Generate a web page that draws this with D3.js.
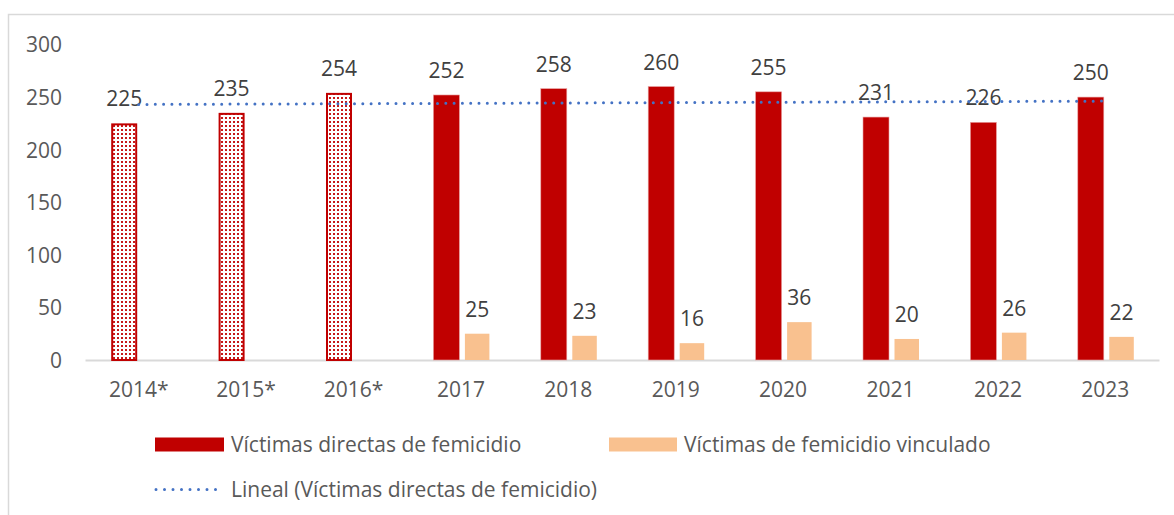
<!DOCTYPE html>
<html>
<head>
<meta charset="utf-8">
<script src="https://cdnjs.cloudflare.com/ajax/libs/d3/7.8.5/d3.min.js"></script>
<style>
  html, body { margin: 0; padding: 0; background: #fff; }
  svg { display: block; font-family: "Open Sans", sans-serif; }
</style>
</head>
<body>
<svg id="chart" width="1174" height="515"></svg>
<script>
const categories = ["2014*", "2015*", "2016*", "2017", "2018", "2019", "2020", "2021", "2022", "2023"];
const directas = [225, 235, 254, 252, 258, 260, 255, 231, 226, 250];
const vinculado = [null, null, null, 25, 23, 16, 36, 20, 26, 22];
const estimated = [true, true, true, false, false, false, false, false, false, false];
const yTicks = [0, 50, 100, 150, 200, 250, 300];
const legendLabels = ["Víctimas directas de femicidio", "Víctimas de femicidio vinculado", "Lineal (Víctimas directas de femicidio)"];

const RED = "#C00000", ORANGE = "#F9C18F", BLUE = "#4472C4";
const FS = "21px";
const svg = d3.select("#chart");

// chart frame
svg.append("path").attr("d", "M8.5,515 V14.5 H1174").attr("fill", "none").attr("stroke", "#d9d9d9").attr("stroke-width", 1.5);

const defs = svg.append("defs");
const pat = defs.append("pattern").attr("id", "dots").attr("patternUnits", "userSpaceOnUse")
  .attr("width", 4).attr("height", 4);
pat.append("rect").attr("width", 4).attr("height", 4).attr("fill", "#fff");
pat.append("rect").attr("x", 1).attr("y", 1).attr("width", 2).attr("height", 2).attr("fill", RED).attr("opacity", 0.9);

const x = d3.scaleBand().domain(categories).range([85, 1159]).paddingInner(0).paddingOuter(0);
const y = d3.scaleLinear().domain([0, 300]).range([360, 44.5]);

// y axis labels
const yAxis = d3.axisLeft(y).tickValues(yTicks).tickSize(0).tickPadding(0);
const gy = svg.append("g").attr("transform", "translate(62,0)").call(yAxis);
gy.select(".domain").remove();
gy.selectAll("text").attr("fill", "#595959").style("font-size", FS).style("font-family", "'Open Sans', sans-serif").attr("dy", "0.35em");

// x axis
const xAxis = d3.axisBottom(x).tickSize(0).tickPadding(0);
const gx = svg.append("g").attr("transform", "translate(0,360)").call(xAxis);
gx.select(".domain").attr("stroke", "#d9d9d9").attr("stroke-width", 2);
gx.selectAll("text").attr("fill", "#595959").style("font-size", FS).style("font-family", "'Open Sans', sans-serif").attr("y", 30).attr("dy", "0.35em");

const cx = c => x(c) + x.bandwidth() / 2;
const redX = c => cx(c) - 27.5, redW = 26;
const orX = c => cx(c) + 4, orW = 24.5;

// red bars
categories.forEach((c, i) => {
  const v = directas[i];
  if (estimated[i]) {
    svg.append("rect").attr("x", redX(c) + 1).attr("y", y(v) + 1).attr("width", redW - 2).attr("height", y(0) - y(v) - 1)
      .attr("fill", "url(#dots)").attr("stroke", RED).attr("stroke-width", 2);
  } else {
    svg.append("rect").attr("x", redX(c)).attr("y", y(v)).attr("width", redW).attr("height", y(0) - y(v))
      .attr("fill", RED).attr("stroke", "#e8a0a0").attr("stroke-width", 0.6);
  }
  svg.append("text").attr("x", redX(c) + redW / 2).attr("y", y(v) - 17).attr("text-anchor", "middle")
    .attr("fill", "#404040").style("font-size", FS).text(v);
});

// orange bars
categories.forEach((c, i) => {
  const v = vinculado[i];
  if (v == null) return;
  svg.append("rect").attr("x", orX(c)).attr("y", y(v)).attr("width", orW).attr("height", y(0) - y(v))
    .attr("fill", ORANGE);
  svg.append("text").attr("x", orX(c) + orW / 2).attr("y", y(v) - 17).attr("text-anchor", "middle")
    .attr("fill", "#404040").style("font-size", FS).text(v);
});

// linear trendline (least squares on directas)
const n = directas.length;
const xs = d3.range(1, n + 1);
const mx = d3.mean(xs), my = d3.mean(directas);
const slope = d3.sum(xs.map((xi, i) => (xi - mx) * (directas[i] - my))) / d3.sum(xs.map(xi => (xi - mx) ** 2));
const icpt = my - slope * mx;
const trend = [[cx(categories[0]), y(icpt + slope * 1)], [cx(categories[n - 1]), y(icpt + slope * n)]];
svg.append("path").attr("d", d3.line()(trend)).attr("fill", "none").attr("stroke", BLUE)
  .attr("stroke-width", 3).attr("stroke-linecap", "round").attr("stroke-dasharray", "0 8.3");

// legend
const lg = svg.append("g");
lg.append("rect").attr("x", 155).attr("y", 437.5).attr("width", 69).attr("height", 14).attr("fill", RED);
lg.append("text").attr("x", 231).attr("y", 444.5).attr("dy", "0.35em").attr("fill", "#595959").style("font-size", FS).text(legendLabels[0]);
lg.append("rect").attr("x", 609).attr("y", 437.5).attr("width", 68).attr("height", 14).attr("fill", ORANGE);
lg.append("text").attr("x", 684).attr("y", 444.5).attr("dy", "0.35em").attr("fill", "#595959").style("font-size", FS).text(legendLabels[1]);
lg.append("path").attr("d", "M156,489.5 H224").attr("stroke", BLUE).attr("stroke-width", 3)
  .attr("stroke-linecap", "round").attr("stroke-dasharray", "0 8.5");
lg.append("text").attr("x", 231).attr("y", 489.5).attr("dy", "0.35em").attr("fill", "#595959").style("font-size", FS).text(legendLabels[2]);
</script>
</body>
</html>
